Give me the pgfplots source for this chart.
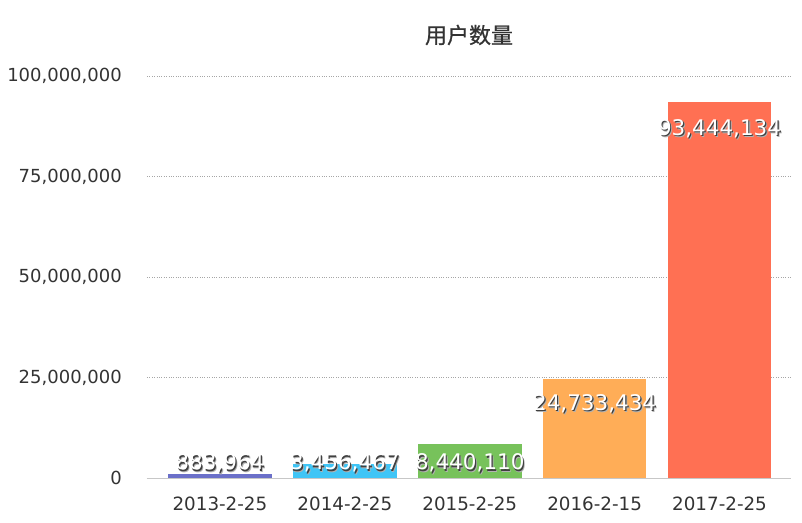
\documentclass[border=0pt]{standalone}
\usepackage{fontspec}
\setmainfont{DejaVu Sans}
\newfontfamily\cjk[FakeBold=0.8]{Noto Sans CJK SC}
\usepackage{pgfplots}
\pgfplotsset{compat=1.18}
\usepackage{pgfplotstable}

\definecolor{cA}{HTML}{6B70C9}
\definecolor{cB}{HTML}{3FC5F6}
\definecolor{cC}{HTML}{77C25B}
\definecolor{cD}{HTML}{FFAD57}
\definecolor{cE}{HTML}{FF7053}
\definecolor{txt}{HTML}{333333}

% white label with a dark drop shadow
\newcommand\shtext[1]{%
  \rlap{\hspace{2pt}\raisebox{-2.2pt}{\textcolor{black!30}{#1}}}%
  \rlap{\hspace{1.2pt}\raisebox{-1.6pt}{\textcolor{black!75}{#1}}}%
  \textcolor{white}{#1}}

% label positions (baselines) and texts
\pgfplotstableread{
x y lab
0 2000000 883,964
1 2000000 3,456,467
2 2000000 8,440,110
3 16900000 24,733,434
4 85300000 93,444,134
}\barlabels

\begin{document}
\begin{tikzpicture}
\useasboundingbox (-147bp,-45bp) rectangle (655bp,478bp);
\begin{axis}[
    width=644bp, height=402bp,
    scale only axis,
    xmin=-0.584, xmax=4.572,
    ymin=0, ymax=100000000,
    axis lines=left,
    x axis line style={-, black!22, line width=1pt},
    y axis line style={draw=none},
    major tick length=0pt,
    xtick={0,1,2,3,4},
    xticklabels={2013-2-25,2014-2-25,2015-2-25,2016-2-15,2017-2-25},
    ytick={0,25000000,50000000,75000000,100000000},
    scaled y ticks=false,
    /pgf/number format/fixed,
    /pgf/number format/1000 sep={,},
    /pgf/number format/assume math mode=true,
    yticklabel style={font=\fontsize{18bp}{20bp}\selectfont, text=txt, anchor=east, inner sep=0pt, xshift=-25bp},
    xticklabel style={font=\fontsize{18.3bp}{20bp}\selectfont, text=txt, anchor=north, inner sep=0pt, yshift=-19bp},
    ymajorgrids,
    grid style={dotted, black!35, line width=0.7pt},
    clip=false,
]
\addplot[ybar, bar width=0.83, bar shift=0pt, fill=cA, draw=none] coordinates {(0,883964)};
\addplot[ybar, bar width=0.83, bar shift=0pt, fill=cB, draw=none] coordinates {(1,3456467)};
\addplot[ybar, bar width=0.83, bar shift=0pt, fill=cC, draw=none] coordinates {(2,8440110)};
\addplot[ybar, bar width=0.83, bar shift=0pt, fill=cD, draw=none] coordinates {(3,24733434)};
\addplot[ybar, bar width=0.83, bar shift=0pt, fill=cE, draw=none] coordinates {(4,93444134)};

\addplot[draw=none, mark=none,
    point meta=explicit symbolic,
    nodes near coords={\shtext{\pgfplotspointmeta}},
    every node near coord/.append style={anchor=base, inner sep=0pt,
        font=\fontsize{21.5bp}{24bp}\selectfont},
] table[x=x, y=y, meta=lab] {\barlabels};

\node[font=\cjk\fontsize{22bp}{24bp}\selectfont, text=txt, anchor=center]
    at ([yshift=41bp]rel axis cs:0.5,1) {用户数量};
\end{axis}
\end{tikzpicture}
\end{document}
